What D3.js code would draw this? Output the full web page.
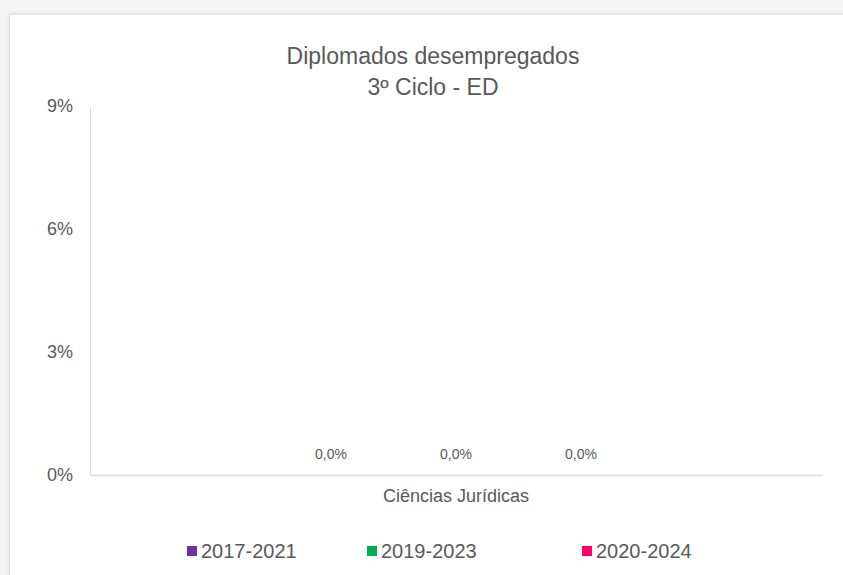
<!DOCTYPE html>
<html>
<head>
<meta charset="utf-8">
<script src="https://cdn.jsdelivr.net/npm/d3@7"></script>
<style>
  html, body { margin: 0; padding: 0; background: #f4f4f4; overflow: hidden; }
  #frame {
    position: absolute; left: 10px; top: 15px; width: 850px; height: 580px;
    background: #fff; box-shadow: -1px -1px 3px rgba(0,0,0,0.12);
  }
  #chart { position: absolute; left: 0; top: 0; }
</style>
</head>
<body>
<div id="frame"></div>
<div id="chart"></div>
<script>
// Chart data
const categories = ["Ciências Jurídicas"];
const seriesNames = ["2017-2021", "2019-2023", "2020-2024"];
const seriesValues = [[0.0], [0.0], [0.0]];
const seriesColours = ["#7030A0", "#00B050", "#FF0066"];
const yTicks = [0, 0.03, 0.06, 0.09];
const titleLines = ["Diplomados desempregados", "3º Ciclo - ED"];

const width = 843, height = 575;
const font = "'Liberation Sans Narrow', 'Arial Narrow', 'Liberation Sans', sans-serif";
const textColour = "#595959";

const svg = d3.select("#chart").append("svg")
  .attr("width", width)
  .attr("height", height);

const plot = { left: 90, right: 822, top: 106, bottom: 475 };

// Scales
const y = d3.scaleLinear()
  .domain([0, 0.09])
  .range([plot.bottom, plot.top]);

const x0 = d3.scaleBand()
  .domain(categories)
  .range([plot.left, plot.right])
  .paddingInner(0)
  .paddingOuter(0.476);

const x1 = d3.scaleBand()
  .domain(seriesNames)
  .range([0, x0.bandwidth()])
  .padding(0);

// Title
svg.append("g")
  .selectAll("text")
  .data(titleLines)
  .join("text")
  .attr("x", 433)
  .attr("y", (d, i) => 64 + i * 31)
  .attr("text-anchor", "middle")
  .attr("font-family", font)
  .attr("font-size", "23px")
  .attr("fill", textColour)
  .text(d => d);

// Y axis
const yAxis = svg.append("g")
  .attr("transform", `translate(${plot.left},0)`)
  .call(d3.axisLeft(y)
    .tickValues(yTicks)
    .tickSize(0)
    .tickPadding(17)
    .tickFormat(d3.format(".0%")));
yAxis.select(".domain").attr("stroke", "#d9d9d9").attr("stroke-width", 1);
yAxis.selectAll(".tick text")
  .attr("font-family", font)
  .attr("font-size", "18px")
  .attr("fill", textColour);

// X axis
const xAxis = svg.append("g")
  .attr("transform", `translate(0,${plot.bottom})`)
  .call(d3.axisBottom(x0).tickSize(0).tickPadding(14).tickSizeOuter(0));
xAxis.select(".domain").attr("stroke", "#d9d9d9").attr("stroke-width", 1.5);
xAxis.selectAll(".tick text")
  .attr("font-family", font)
  .attr("font-size", "18px")
  .attr("fill", textColour);

// Bars and labels
const groups = svg.append("g")
  .selectAll("g")
  .data(seriesNames)
  .join("g")
  .attr("fill", (d, i) => seriesColours[i]);

const fmt = v => d3.format(".1%")(v).replace(".", ",");

categories.forEach((cat, ci) => {
  groups.append("rect")
    .attr("x", s => x0(cat) + x1(s) + x1.bandwidth() * 0.1)
    .attr("width", x1.bandwidth() * 0.8)
    .attr("y", (s, si) => y(seriesValues[si][ci]))
    .attr("height", (s, si) => plot.bottom - y(seriesValues[si][ci]));

  groups.append("text")
    .attr("x", s => x0(cat) + x1(s) + x1.bandwidth() / 2)
    .attr("y", (s, si) => y(seriesValues[si][ci]) - 16)
    .attr("text-anchor", "middle")
    .attr("font-family", font)
    .attr("font-size", "14px")
    .attr("fill", textColour)
    .text((s, si) => fmt(seriesValues[si][ci]));
});

// Legend
const legendX = [187, 367, 582];
const legend = svg.append("g")
  .selectAll("g")
  .data(seriesNames)
  .join("g")
  .attr("transform", (d, i) => `translate(${legendX[i]},551)`);

legend.append("rect")
  .attr("x", 0)
  .attr("y", -5)
  .attr("width", 10)
  .attr("height", 10)
  .attr("fill", (d, i) => seriesColours[i]);

legend.append("text")
  .attr("x", 14)
  .attr("y", 7)
  .attr("font-family", font)
  .attr("font-size", "20px")
  .attr("fill", textColour)
  .text(d => d);
</script>
</body>
</html>
